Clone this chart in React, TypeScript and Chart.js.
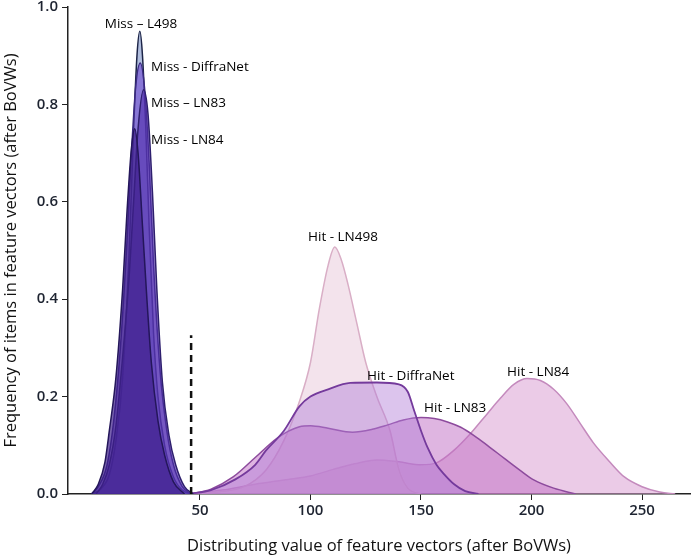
import React, { useEffect, useRef } from "react";
import { Chart, registerables } from "chart.js";

Chart.register(...registerables);

// ---- Miss curves (narrow peaks) ----
const missL498X = [1, 5, 9, 12, 15, 18, 20, 21.5, 22.8, 24, 25.5, 27, 29, 31, 34, 38, 42, 46];
const missL498Y = [0, 0.01, 0.04, 0.11, 0.24, 0.5, 0.75, 0.9, 0.95, 0.9, 0.75, 0.55, 0.33, 0.2, 0.1, 0.035, 0.008, 0];

const missDiffraX = [1, 4, 8, 11, 14, 17, 19, 21, 23, 25, 27, 29, 32, 35, 38, 42, 46];
const missDiffraY = [0, 0.015, 0.06, 0.15, 0.3, 0.52, 0.7, 0.84, 0.885, 0.83, 0.68, 0.47, 0.25, 0.13, 0.06, 0.015, 0];

const missLN83X = [3, 6, 9, 12, 15, 18, 20, 22, 24.5, 26.5, 28.5, 30.5, 33, 36, 39, 43, 47];
const missLN83Y = [0, 0.02, 0.06, 0.14, 0.28, 0.45, 0.6, 0.75, 0.83, 0.78, 0.62, 0.42, 0.23, 0.12, 0.06, 0.015, 0];

const missLN84X = [1, 4, 7, 9, 12, 15, 17, 19, 20.5, 22, 24, 26, 28, 31, 34, 38, 43];
const missLN84Y = [0, 0.02, 0.065, 0.13, 0.24, 0.42, 0.58, 0.71, 0.75, 0.7, 0.55, 0.4, 0.27, 0.15, 0.08, 0.025, 0];

// ---- Hit curves ----
const hitLN498X = [45, 60, 70, 80, 88, 95, 100, 104, 108, 111, 114, 117, 121, 125, 130, 136, 140, 144, 150];
const hitLN498Y = [0, 0.005, 0.015, 0.05, 0.11, 0.19, 0.27, 0.38, 0.47, 0.507, 0.48, 0.43, 0.35, 0.27, 0.2, 0.13, 0.05, 0.012, 0];

const hitDiffraX = [45, 55, 66, 75, 80, 88, 95, 100, 108, 118, 130, 140, 144, 147, 150, 153, 157, 160, 165, 170, 176];
const hitDiffraY = [0, 0.008, 0.03, 0.06, 0.09, 0.13, 0.18, 0.2, 0.215, 0.228, 0.229, 0.225, 0.21, 0.17, 0.13, 0.095, 0.06, 0.043, 0.02, 0.006, 0];

const hitLN83X = [45, 55, 65, 75, 85, 95, 100, 108, 119, 128, 135, 142, 150, 156, 162, 168, 174, 180, 188, 195, 201, 210, 220];
const hitLN83Y = [0, 0.01, 0.035, 0.075, 0.115, 0.138, 0.14, 0.135, 0.127, 0.133, 0.142, 0.152, 0.157, 0.155, 0.148, 0.137, 0.12, 0.1, 0.072, 0.048, 0.029, 0.012, 0];

const hitLN84X = [45, 60, 75, 90, 100, 110, 120, 130, 140, 150, 157, 165, 172, 180, 186, 192, 198, 204, 210, 216, 222, 228, 235, 242, 250, 258, 265];
const hitLN84Y = [0, 0.008, 0.02, 0.03, 0.037, 0.05, 0.062, 0.07, 0.066, 0.06, 0.064, 0.09, 0.122, 0.165, 0.197, 0.225, 0.237, 0.233, 0.215, 0.185, 0.145, 0.105, 0.068, 0.035, 0.015, 0.004, 0];

// ---- threshold line ----
const thresholdX = [46, 46];
const thresholdY = [0, 0.326];

// ---- ticks ----
const xTicks = [50, 100, 150, 200, 250];
const yTicks = [0, 0.2, 0.4, 0.6, 0.8, 1.0];

// ---- annotation labels ----
const labelTexts = [
  "Miss \u2013 L498",
  "Miss - DiffraNet",
  "Miss \u2013 LN83",
  "Miss - LN84",
  "Hit - LN498",
  "Hit - DiffraNet",
  "Hit - LN83",
  "Hit - LN84",
];
const labelX = [23.3, 27.9, 27.9, 27.9, 114.7, 125.6, 151.4, 203];
const labelY = [0.965, 0.877, 0.803, 0.727, 0.528, 0.242, 0.177, 0.25];
const labelAlign = ["center", "left", "left", "left", "center", "left", "left", "center"];

const zip = (xs: number[], ys: number[]) => xs.map((x, i) => ({ x, y: ys[i] }));

const curve = (label: string, xs: number[], ys: number[], fill: string, border: string, width = 1.5) => ({
  label,
  data: zip(xs, ys),
  fill: "origin",
  backgroundColor: fill,
  borderColor: border,
  borderWidth: width,
  pointRadius: 0,
  cubicInterpolationMode: "monotone",
});

const labelPlugin = {
  id: "curveLabels",
  afterDatasetsDraw(chart: any) {
    const { ctx, scales } = chart;
    ctx.save();
    ctx.font = '13.5px "Open Sans", sans-serif';
    ctx.fillStyle = "#000";
    ctx.textBaseline = "middle";
    labelTexts.forEach((t, i) => {
      ctx.textAlign = labelAlign[i];
      ctx.fillText(t, scales.x.getPixelForValue(labelX[i]), scales.y.getPixelForValue(labelY[i]));
    });
    ctx.restore();
  },
};

export default function App() {
  const ref = useRef<HTMLCanvasElement>(null);
  useEffect(() => {
    if (!ref.current) return;
    const chart = new Chart(ref.current, {
      type: "line",
      data: {
        datasets: [
          {
            label: "threshold",
            data: zip(thresholdX, thresholdY),
            borderColor: "#111",
            borderWidth: 2.5,
            borderDash: [7, 5],
            pointRadius: 0,
            fill: false,
          } as any,
          curve("Miss - LN84", missLN84X, missLN84Y, "rgba(62,32,140,0.7)", "#24165a"),
          curve("Miss - LN83", missLN83X, missLN83Y, "rgba(82,46,172,0.6)", "#2e1f6e"),
          curve("Miss - DiffraNet", missDiffraX, missDiffraY, "rgba(104,62,208,0.55)", "#3a2a80"),
          curve("Miss - L498", missL498X, missL498Y, "rgba(135,155,205,0.65)", "#1c2447"),
          curve("Hit - DiffraNet", hitDiffraX, hitDiffraY, "rgba(178,125,215,0.45)", "#743a9c", 1.8),
          curve("Hit - LN83", hitLN83X, hitLN83Y, "rgba(192,108,196,0.5)", "#8d4b9d"),
          curve("Hit - LN498", hitLN498X, hitLN498Y, "rgba(232,200,218,0.5)", "#d9aec6"),
          curve("Hit - LN84", hitLN84X, hitLN84Y, "rgba(218,160,212,0.55)", "#c48abd"),
        ] as any,
      },
      options: {
        animation: false,
        responsive: false,
        layout: { padding: { top: 0, right: 2, left: 0, bottom: 0 } },
        plugins: { legend: { display: false }, tooltip: { enabled: false } },
        scales: {
          x: {
            type: "linear",
            min: -9.7,
            max: 271.7,
            afterBuildTicks: (scale: any) => {
              scale.ticks = xTicks.map((v) => ({ value: v }));
            },
            afterFit: (scale: any) => {
              scale.height = 62;
            },
            grid: { drawOnChartArea: false, drawTicks: true, tickLength: 6, color: "#222" },
            border: { display: true, color: "#222", width: 1.5 },
            ticks: {
              color: "#1d2330",
              font: { family: '"Open Sans", sans-serif', size: 15, weight: "600" },
              padding: 2,
              maxRotation: 0,
            },
            title: {
              display: true,
              text: "Distributing value of feature vectors (after BoVWs)",
              color: "#111",
              font: { family: '"Open Sans", sans-serif', size: 16.5 },
              padding: { top: 4, bottom: 0 },
            },
          },
          y: {
            type: "linear",
            min: 0,
            max: 1.0,
            afterBuildTicks: (scale: any) => {
              scale.ticks = yTicks.map((v) => ({ value: v }));
            },
            afterFit: (scale: any) => {
              scale.width = 68;
              scale.paddingTop = 7;
              scale.paddingBottom = 0;
            },
            grid: { drawOnChartArea: false, drawTicks: true, tickLength: 6, color: "#222" },
            border: { display: true, color: "#222", width: 1.5 },
            ticks: {
              color: "#1d2330",
              font: { family: '"Open Sans", sans-serif', size: 15, weight: "600" },
              padding: 4,
              callback: (v: any) => Number(v).toFixed(1),
            },
            title: {
              display: true,
              text: "Frequency of items in feature vectors (after BoVWs)",
              color: "#111",
              font: { family: '"Open Sans", sans-serif', size: 16.5 },
              padding: { top: 1, bottom: 1 },
            },
          },
        },
      } as any,
      plugins: [labelPlugin],
    });
    return () => chart.destroy();
  }, []);
  return (
    <div style={{ position: "absolute", left: 0, top: 0, width: 692, height: 556, background: "#fff" }}>
      <canvas ref={ref} width={692} height={556} />
    </div>
  );
}
